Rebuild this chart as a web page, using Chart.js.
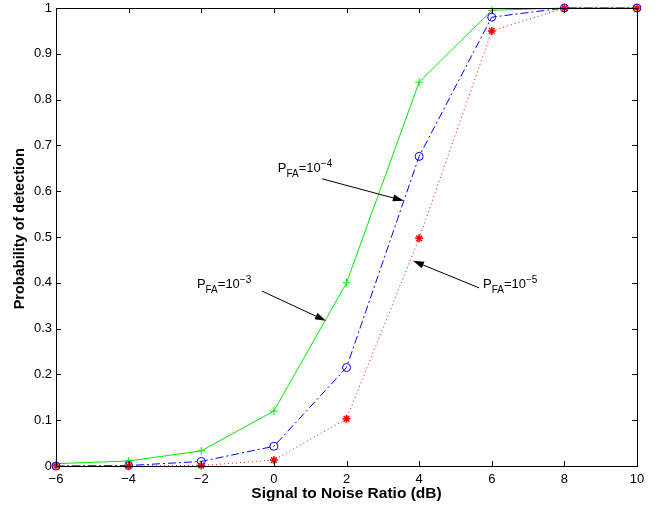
<!DOCTYPE html>
<html>
<head>
<meta charset="utf-8">
<script src="https://cdn.jsdelivr.net/npm/chart.js@4"></script>
<style>
    html, body { margin: 0; padding: 0; background: #fff; }
    #graficoPd { display: block; }
</style>
</head>
<body>
<canvas id="graficoPd" width="664" height="508"></canvas>
<script>
// Dados (SNR em dB x probabilidade de detecção)
const snr = [-6, -4, -2, 0, 2, 4, 6, 8, 10];
const pdFA3 = [0.005, 0.011, 0.033, 0.12, 0.40, 0.838, 0.995, 1, 1];
const pdFA4 = [0.0, 0.001, 0.01, 0.043, 0.215, 0.676, 0.98, 1, 1];
const pdFA5 = [0.0, 0.0, 0.001, 0.013, 0.103, 0.497, 0.95, 1, 1];

// Rótulos das curvas (texto em coordenadas de dados + seta)
const expoentes = ['\u22123', '\u22124', '\u22125'];
const posTexto = [[-2.12, 0.389], [0.11, 0.642], [5.76, 0.389]];
const setas = [
    [-0.33, 0.382, 1.435, 0.317],
    [1.33, 0.627, 3.58, 0.579],
    [5.65, 0.389, 3.83, 0.448]
];

const tituloY = 'Probability of detection';
const fonte = '"Liberation Sans", Arial, Helvetica, sans-serif';

function pontos(ys) {
    return snr.map(function (x, i) { return { x: x, y: ys[i] }; });
}

// Plugin: caixa do eixo com ticks para dentro, estilo MATLAB
const caixaEixos = {
    id: 'caixaEixos',
    afterDatasetsDraw(chart) {
        const ctx = chart.ctx;
        const a = chart.chartArea;
        const sx = chart.scales.x;
        const sy = chart.scales.y;
        const t = 5;
        ctx.save();
        ctx.strokeStyle = '#000';
        ctx.lineWidth = 1;
        ctx.beginPath();
        sx.ticks.forEach(function (tk) {
            const px = Math.round(sx.getPixelForValue(tk.value)) + 0.5;
            ctx.moveTo(px, a.bottom); ctx.lineTo(px, a.bottom - t);
            ctx.moveTo(px, a.top); ctx.lineTo(px, a.top + t);
        });
        sy.ticks.forEach(function (tk) {
            const py = Math.round(sy.getPixelForValue(tk.value)) + 0.5;
            ctx.moveTo(a.left, py); ctx.lineTo(a.left + t, py);
            ctx.moveTo(a.right, py); ctx.lineTo(a.right - t, py);
        });
        ctx.stroke();
        ctx.strokeRect(Math.round(a.left) + 0.5, Math.round(a.top) + 0.5,
            Math.round(a.right - a.left), Math.round(a.bottom - a.top));

        // Setas e textos P_FA = 10^n
        ctx.fillStyle = '#000';
        setas.forEach(function (s) {
            const x0 = sx.getPixelForValue(s[0]), y0 = sy.getPixelForValue(s[1]);
            const x1 = sx.getPixelForValue(s[2]), y1 = sy.getPixelForValue(s[3]);
            const ang = Math.atan2(y1 - y0, x1 - x0);
            const L = 11, W = 3.5;
            ctx.beginPath();
            ctx.moveTo(x0, y0);
            ctx.lineTo(x1 - L * Math.cos(ang), y1 - L * Math.sin(ang));
            ctx.stroke();
            ctx.beginPath();
            ctx.moveTo(x1, y1);
            ctx.lineTo(x1 - L * Math.cos(ang) + W * Math.sin(ang), y1 - L * Math.sin(ang) - W * Math.cos(ang));
            ctx.lineTo(x1 - L * Math.cos(ang) - W * Math.sin(ang), y1 - L * Math.sin(ang) + W * Math.cos(ang));
            ctx.closePath();
            ctx.fill();
        });
        ctx.textBaseline = 'alphabetic';
        ctx.textAlign = 'left';
        posTexto.forEach(function (p, i) {
            let x = sx.getPixelForValue(p[0]);
            const y = sy.getPixelForValue(p[1]);
            ctx.font = '13px ' + fonte;
            ctx.fillText('P', x, y); x += ctx.measureText('P').width;
            ctx.font = '10px ' + fonte;
            ctx.fillText('FA', x, y + 5); x += ctx.measureText('FA').width;
            ctx.font = '13px ' + fonte;
            ctx.fillText('=10', x, y); x += ctx.measureText('=10').width;
            ctx.font = '10px ' + fonte;
            ctx.fillText(expoentes[i], x, y - 5);
        });

        // Título do eixo y (um pouco acima do centro, como na figura)
        ctx.font = 'bold 14.5px ' + fonte;
        ctx.textAlign = 'center';
        ctx.textBaseline = 'middle';
        ctx.translate(19.5, sy.getPixelForValue(0.518));
        ctx.rotate(-Math.PI / 2);
        ctx.fillText(tituloY, 0, 0);
        ctx.restore();
    }
};

const config = {
    type: 'line',
    data: {
        datasets: [{
            label: 'PFA=1e-3',
            data: pontos(pdFA3),
            borderColor: 'rgb(0,235,0)',
            backgroundColor: 'rgb(0,235,0)',
            borderWidth: 1,
            pointStyle: 'cross',
            pointRadius: 4,
            pointBorderWidth: 1,
            order: 3,
            clip: false
        }, {
            label: 'PFA=1e-4',
            data: pontos(pdFA4),
            borderColor: 'rgb(0,0,255)',
            backgroundColor: 'rgba(0,0,0,0)',
            borderWidth: 1,
            borderDash: [8, 3, 2, 3],
            pointStyle: 'circle',
            pointRadius: 4,
            pointBorderWidth: 1,
            order: 2,
            clip: false
        }, {
            label: 'PFA=1e-5',
            data: pontos(pdFA5),
            borderColor: 'rgb(255,0,0)',
            backgroundColor: 'rgb(255,0,0)',
            borderWidth: 1,
            borderDash: [1, 3],
            pointStyle: 'star',
            pointRadius: 4,
            pointBorderWidth: 1.5,
            order: 1,
            clip: false
        }]
    },
    options: {
        responsive: false,
        animation: false,
        events: [],
        elements: { line: { tension: 0, fill: false } },
        layout: { padding: { left: 0, right: 27, top: 8, bottom: 0 } },
        plugins: { legend: { display: false }, tooltip: { enabled: false } },
        scales: {
            x: {
                type: 'linear',
                min: -6,
                max: 10,
                grid: { display: false, drawTicks: false },
                border: { display: false },
                ticks: {
                    stepSize: 2,
                    padding: 6,
                    color: '#000',
                    font: { family: fonte, size: 13 },
                    maxRotation: 0,
                    callback: function (v) { return String(v).replace('-', '\u2212'); }
                },
                title: {
                    display: true,
                    text: 'Signal to Noise Ratio (dB)',
                    color: '#000',
                    font: { family: fonte, size: 15.5, weight: 'bold' },
                    padding: { top: 0, bottom: 5 }
                },
                afterFit: function (s) { s.height = 42; s.paddingLeft = 0; s.paddingRight = 0; }
            },
            y: {
                min: 0,
                max: 1,
                grid: { display: false, drawTicks: false },
                border: { display: false },
                ticks: {
                    stepSize: 0.1,
                    padding: 4,
                    color: '#000',
                    font: { family: fonte, size: 13 },
                    callback: function (v) { return String(Math.round(v * 10) / 10); }
                },
                title: { display: false },
                afterFit: function (s) { s.width = 56; s.paddingTop = 0; s.paddingBottom = 0; }
            }
        }
    },
    plugins: [caixaEixos]
};

new Chart(document.getElementById('graficoPd'), config);
</script>
</body>
</html>
